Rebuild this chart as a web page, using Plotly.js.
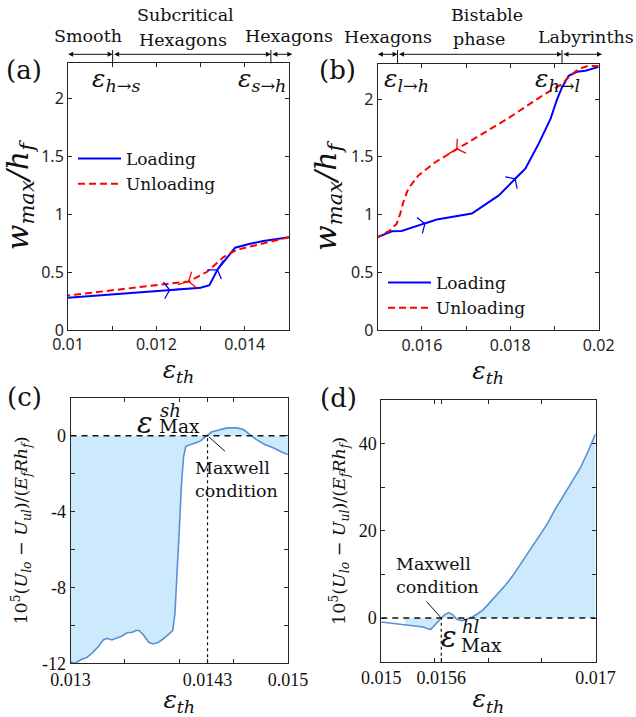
<!DOCTYPE html>
<html><head><meta charset="utf-8">
<script src="https://cdn.plot.ly/plotly-3.0.1.min.js"></script>
<style>html,body{margin:0;padding:0;background:#fff}</style>
</head><body><div id="chart" style="width:636px;height:717px"></div>
<script>
// ---------- data ----------
// (a) subcritical hexagons
const aLoadX   = [0.0100, 0.0123, 0.0130, 0.0132, 0.01338, 0.01378, 0.01412, 0.01442, 0.0150];
const aLoadY   = [0.278, 0.345, 0.364, 0.387, 0.520, 0.710, 0.744, 0.767, 0.800];
const aUnloadX = [0.0150, 0.01435, 0.01382, 0.01352, 0.01314, 0.01273, 0.0100];
const aUnloadY = [0.800, 0.744, 0.692, 0.629, 0.500, 0.419, 0.298];
const aLoadArrowIdx = [1, 4];
const aUnloadArrowIdx = [5];
const aTransitions = [0.01101, 0.01459];

// (b) bistable phase
const bLoadX   = [0.0150, 0.01532, 0.01554, 0.01607, 0.01634, 0.01713, 0.01774, 0.01811, 0.01834, 0.01864, 0.01891, 0.01906, 0.01917, 0.01932, 0.01951, 0.0197, 0.0200];
const bLoadY   = [0.805, 0.856, 0.859, 0.922, 0.959, 1.009, 1.166, 1.310, 1.397, 1.612, 1.828, 2.000, 2.100, 2.200, 2.235, 2.244, 2.278];
const bUnloadX = [0.0200, 0.01975, 0.01955, 0.01935, 0.01917, 0.01872, 0.01796, 0.01736, 0.01679, 0.0163, 0.01592, 0.01569, 0.01558, 0.01551, 0.01543, 0.01528, 0.0150];
const bUnloadY = [2.285, 2.285, 2.260, 2.200, 2.130, 2.028, 1.835, 1.698, 1.569, 1.453, 1.339, 1.224, 1.109, 1.009, 0.922, 0.865, 0.805];
const bLoadArrowIdx = [3, 7];
const bUnloadArrowIdx = [8];
const bTransitions = [0.01545, 0.01917];

// (c) energy difference, smooth <-> hexagons
const cX = [0.0130, 0.01304, 0.0131, 0.01315, 0.0132, 0.01326, 0.0133, 0.01334, 0.01338, 0.01343, 0.01347, 0.01352, 0.01357, 0.0136, 0.01363, 0.01367, 0.01372, 0.01376, 0.01381, 0.01386, 0.01391, 0.01394, 0.01396, 0.01398, 0.0140, 0.01402, 0.01404, 0.01406, 0.01413, 0.01419, 0.01425, 0.0143, 0.01434, 0.01444, 0.01453, 0.01459, 0.01465, 0.01471, 0.01479, 0.01487, 0.01494, 0.0150];
const cY = [-11.92, -12.0, -11.8, -11.7, -11.45, -11.1, -10.77, -10.68, -10.77, -10.68, -10.57, -10.39, -10.36, -10.27, -10.27, -10.5, -10.89, -10.98, -10.89, -10.68, -10.45, -10.27, -9.4, -7.4, -5.0, -2.6, -1.1, -0.56, -0.44, -0.3, -0.03, 0.2, 0.26, 0.41, 0.41, 0.32, 0.05, -0.21, -0.48, -0.65, -0.86, -1.0];
const cMaxwell = 0.01426;

// (d) energy difference, hexagons <-> labyrinths
const dX = [0.0150, 0.01507, 0.01514, 0.01522, 0.0153, 0.01539, 0.01546, 0.0155, 0.01555, 0.01559, 0.01563, 0.01567, 0.0157, 0.01575, 0.0158, 0.01585, 0.0159, 0.01595, 0.0160, 0.01608, 0.01616, 0.01623, 0.01631, 0.01639, 0.01647, 0.01655, 0.01662, 0.0167, 0.01678, 0.01686, 0.01693, 0.0170];
const dY = [-0.9, -1.1, -1.3, -1.5, -1.7, -2.05, -2.65, -1.55, -0.25, 0.75, 1.25, 0.75, -0.2, -0.6, -0.25, 0.25, 1.0, 1.9, 3.2, 5.4, 7.6, 9.8, 12.7, 15.6, 18.6, 21.6, 24.8, 28.1, 31.3, 34.5, 38.2, 42.2];
const dMaxwell = 0.01556;
const dFillStart = 0.0152;

// ---------- layout helpers ----------
const W = 636, H = 717;
const px = v => v / W, py = v => 1 - v / H;
const SERIF = 'DejaVu Serif', SANS = 'Noto Sans', TSERIF = 'Liberation Serif';
const INK = '#262626';
const BLUE = '#0000ff', RED = '#ff0000', CLINE = '#5a8fd5', CFILL = '#cceafc';

const dom = {
  a: {x: [px(68), px(289)], y: [py(330), py(63.3)], xr: [0.01, 0.015], yr: [0, 2.3]},
  b: {x: [px(377.7), px(598.7)], y: [py(330.3), py(64.3)], xr: [0.015, 0.02], yr: [0, 2.3]},
  c: {x: [px(70.5), px(288)], y: [py(663.3), py(397.7)], xr: [0.013, 0.015], yr: [-12, 2]},
  d: {x: [px(381.3), px(595.5)], y: [py(661.7), py(400)], xr: [0.015, 0.017], yr: [-10, 50]}
};

function arrowAngles(xs, ys, idx, d) {
  const sx = W * (d.x[1] - d.x[0]) / (d.xr[1] - d.xr[0]);
  const sy = H * (d.y[1] - d.y[0]) / (d.yr[1] - d.yr[0]);
  return idx.map(i => {
    const v = [];
    for (const [p, q] of [[i - 1, i], [i, i + 1]]) {
      if (p < 0 || q >= xs.length) continue;
      const dx = (xs[q] - xs[p]) * sx, dy = -(ys[q] - ys[p]) * sy;
      const n = Math.hypot(dx, dy); v.push([dx / n, dy / n]);
    }
    const mx = v.reduce((s, e) => s + e[0], 0), my = v.reduce((s, e) => s + e[1], 0);
    return Math.atan2(my, mx) * 180 / Math.PI;
  });
}
function arrowTrace(xs, ys, idx, d, color, xa, ya) {
  return {x: idx.map(i => xs[i]), y: idx.map(i => ys[i]), xaxis: xa, yaxis: ya, type: 'scatter', mode: 'markers',
    showlegend: false, hoverinfo: 'skip',
    marker: {symbol: 'y-right', size: 14, angle: arrowAngles(xs, ys, idx, d), color: color, line: {color: color, width: 1.3}}};
}

const traces = [
  {x: aLoadX, y: aLoadY, xaxis: 'x', yaxis: 'y', type: 'scatter', mode: 'lines', name: 'Loading', legend: 'legend',
   line: {color: BLUE, width: 2}},
  {x: aUnloadX, y: aUnloadY, xaxis: 'x', yaxis: 'y', type: 'scatter', mode: 'lines', name: 'Unloading', legend: 'legend',
   line: {color: RED, width: 2, dash: '7px,4px'}},
  arrowTrace(aLoadX, aLoadY, aLoadArrowIdx, dom.a, BLUE, 'x', 'y'),
  arrowTrace(aUnloadX, aUnloadY, aUnloadArrowIdx, dom.a, RED, 'x', 'y'),
  {x: bLoadX, y: bLoadY, xaxis: 'x2', yaxis: 'y2', type: 'scatter', mode: 'lines', name: 'Loading', legend: 'legend2',
   line: {color: BLUE, width: 2}},
  {x: bUnloadX, y: bUnloadY, xaxis: 'x2', yaxis: 'y2', type: 'scatter', mode: 'lines', name: 'Unloading', legend: 'legend2',
   line: {color: RED, width: 2, dash: '7px,4px'}},
  arrowTrace(bLoadX, bLoadY, bLoadArrowIdx, dom.b, BLUE, 'x2', 'y2'),
  arrowTrace(bUnloadX, bUnloadY, bUnloadArrowIdx, dom.b, RED, 'x2', 'y2'),
  {x: cX, y: cY, xaxis: 'x3', yaxis: 'y3', type: 'scatter', mode: 'lines', fill: 'tozeroy', fillcolor: CFILL,
   showlegend: false, line: {color: CLINE, width: 1.6}},
  (() => {
    const xs = [], ys = [];
    dX.forEach((x, i) => { if (x >= dFillStart) { xs.push(x); ys.push(dY[i]); } });
    return {x: xs, y: ys, xaxis: 'x4', yaxis: 'y4', type: 'scatter', mode: 'none', fill: 'tozeroy', fillcolor: CFILL, showlegend: false};
  })(),
  {x: dX, y: dY, xaxis: 'x4', yaxis: 'y4', type: 'scatter', mode: 'lines', showlegend: false, line: {color: CLINE, width: 1.6}}
];

function box(extra) {
  return Object.assign({showline: true, mirror: 'allticks', ticks: 'inside', ticklen: 4, tickwidth: 1, linewidth: 1,
    linecolor: INK, tickcolor: INK, showgrid: false, zeroline: false, fixedrange: true}, extra);
}
const epsTh = '<i>ε</i><sub><i>th</i></sub>';
const wTitle = '<i>w</i><sub><i>max</i></sub><i>/h</i><sub><i>f</i></sub>';
const uTitle = '10<sup>5</sup>(<i>U</i><sub><i>lo</i></sub> − <i>U</i><sub><i>ul</i></sub>)/(<i>E</i><sub><i>f</i></sub><i>Rh</i><sub><i>f</i></sub>)';
const sansTick = {family: SANS, size: 16, color: INK};
const serifTick = {family: TSERIF, size: 18, color: '#111'};
const xTitleFont = {family: SERIF, size: 25, color: '#111'};

const layout = {
  width: W, height: H, margin: {l: 0, r: 0, t: 0, b: 0, pad: 0},
  paper_bgcolor: '#fff', plot_bgcolor: '#fff', showlegend: true,
  xaxis: box({domain: dom.a.x, range: dom.a.xr, anchor: 'y',
    tickvals: [0.010, 0.011, 0.012, 0.013, 0.014, 0.015], ticktext: ['0.01', '', '0.012', '', '0.014', ''],
    tickfont: sansTick, title: {text: epsTh, font: xTitleFont, standoff: 2}}),
  yaxis: box({domain: dom.a.y, range: dom.a.yr, anchor: 'x',
    tickvals: [0, 0.5, 1, 1.5, 2], ticktext: ['0', '0.5', '1', '1.5', '2'],
    tickfont: sansTick, title: {text: wTitle, font: {family: SERIF, size: 30, color: '#111'}, standoff: 5}}),
  xaxis2: box({domain: dom.b.x, range: dom.b.xr, anchor: 'y2',
    tickvals: [0.015, 0.016, 0.017, 0.018, 0.019, 0.020], ticktext: ['', '0.016', '', '0.018', '', '0.02'],
    tickfont: sansTick, title: {text: epsTh, font: xTitleFont, standoff: 2}}),
  yaxis2: box({domain: dom.b.y, range: dom.b.yr, anchor: 'x2',
    tickvals: [0, 0.5, 1, 1.5, 2], ticktext: ['0', '0.5', '1', '1.5', '2'],
    tickfont: sansTick, title: {text: wTitle, font: {family: SERIF, size: 30, color: '#111'}, standoff: 5}}),
  xaxis3: box({domain: dom.c.x, range: dom.c.xr, anchor: 'y3',
    tickvals: [0.013, 0.0135, 0.014, cMaxwell, 0.0145, 0.015], ticktext: ['0.013', '', '', '0.0143', '', '0.015'],
    tickfont: serifTick, title: {text: epsTh, font: xTitleFont, standoff: 2}}),
  yaxis3: box({domain: dom.c.y, range: dom.c.yr, anchor: 'x3',
    tickvals: [-12, -10, -8, -6, -4, -2, 0, 2], ticktext: ['-12', '', '-8', '', '-4', '', '0', ''],
    tickfont: serifTick, title: {text: uTitle, font: {family: SERIF, size: 17.5, color: '#111'}, standoff: 9}}),
  xaxis4: box({domain: dom.d.x, range: dom.d.xr, anchor: 'y4',
    tickvals: [0.015, 0.0155, dMaxwell, 0.016, 0.0165, 0.017], ticktext: ['0.015', '', '0.0156', '', '', '0.017'],
    tickfont: serifTick, title: {text: epsTh, font: xTitleFont, standoff: 2}}),
  yaxis4: box({domain: dom.d.y, range: dom.d.yr, anchor: 'x4',
    tickvals: [-10, 0, 10, 20, 30, 40, 50], ticktext: ['', '0', '', '20', '', '40', ''],
    tickfont: serifTick, title: {text: uTitle, font: {family: SERIF, size: 17.5, color: '#111'}, standoff: 8}}),
  legend: {x: px(73), y: py(141), xanchor: 'left', yanchor: 'top', bgcolor: 'rgba(0,0,0,0)', borderwidth: 0,
    font: {family: SERIF, size: 17, color: '#111'}, itemwidth: 43, tracegroupgap: 0},
  legend2: {x: px(383), y: py(265), xanchor: 'left', yanchor: 'top', bgcolor: 'rgba(0,0,0,0)', borderwidth: 0,
    font: {family: SERIF, size: 17, color: '#111'}, itemwidth: 43, tracegroupgap: 0},
  shapes: [],
  annotations: []
};

const S = layout.shapes, A = layout.annotations;
const txt = (x, y, text, size, opts) => A.push(Object.assign({xref: 'paper', yref: 'paper', x: px(x), y: py(y), text: text,
  showarrow: false, font: {family: SERIF, size: size, color: '#111'}, xanchor: 'center', yanchor: 'middle'}, opts || {}));

// panel letters
txt(24, 70, '(a)', 26); txt(337, 70, '(b)', 26); txt(24, 397, '(c)', 26); txt(338, 398, '(d)', 26);

// regime labels
txt(88, 36, 'Smooth', 17.5); txt(185, 15, 'Subcritical', 17.5); txt(183, 40, 'Hexagons', 17.5); txt(289, 36, 'Hexagons', 17.5);
txt(388, 37, 'Hexagons', 17.5); txt(487, 15, 'Bistable', 17.5); txt(479, 39, 'phase', 17.5); txt(586, 37, 'Labyrinths', 17.5);

// transition labels
txt(116, 80, '<i>ε</i><sub><i>h</i>→<i>s</i></sub>', 25);
txt(262, 80, '<i>ε</i><sub><i>s</i>→<i>h</i></sub>', 25);
txt(406, 80, '<i>ε</i><sub><i>l</i>→<i>h</i></sub>', 25);
txt(557, 80, '<i>ε</i><sub><i>h</i>→<i>l</i></sub>', 25);

// regime arrows above (a) and (b)
function regimeArrows(xa, trans, r) {
  const span = r[1] - r[0];
  const pts = [r[0] - span * 0.006, ...trans, r[1] + span * 0.015];
  for (let i = 0; i < pts.length - 1; i++) {
    A.push({xref: xa, yref: 'paper', axref: xa, ayref: 'pixel', x: pts[i + 1], y: py(54.3), ax: pts[i], ay: 0,
      text: '', showarrow: true, arrowside: 'end+start', arrowhead: 2, arrowsize: 1, arrowwidth: 1, arrowcolor: '#111',
      standoff: 0, startstandoff: 0});
  }
  trans.forEach(t => S.push({type: 'line', xref: xa, yref: 'paper', x0: t, x1: t, y0: py(63.3), y1: py(50),
    line: {color: '#111', width: 1}}));
}
regimeArrows('x', aTransitions, dom.a.xr);
regimeArrows('x2', bTransitions, dom.b.xr);

// Maxwell construction lines in (c) and (d)
S.push({type: 'line', xref: 'x3', yref: 'y3', x0: dom.c.xr[0], x1: dom.c.xr[1], y0: 0, y1: 0, line: {color: '#111', width: 1.5, dash: '6px,5px'}});
S.push({type: 'line', xref: 'x3', yref: 'y3', x0: cMaxwell, x1: cMaxwell, y0: dom.c.yr[0], y1: 0, line: {color: '#111', width: 1.2, dash: '3px,3px'}});
S.push({type: 'line', xref: 'x4', yref: 'y4', x0: dom.d.xr[0], x1: dom.d.xr[1], y0: 0, y1: 0, line: {color: '#111', width: 1.5, dash: '6px,5px'}});
S.push({type: 'line', xref: 'x4', yref: 'y4', x0: dMaxwell, x1: dMaxwell, y0: dom.d.yr[0], y1: 0, line: {color: '#111', width: 1.2, dash: '3px,3px'}});

// Maxwell pointers
A.push({xref: 'x3', yref: 'y3', x: cMaxwell, y: 0, ax: 19, ay: 17, text: '', showarrow: true, arrowhead: 0, arrowwidth: 1, arrowcolor: '#111', standoff: 2});
A.push({xref: 'x4', yref: 'y4', x: dMaxwell, y: 0, ax: -16, ay: -18, text: '', showarrow: true, arrowhead: 0, arrowwidth: 1, arrowcolor: '#111', standoff: 1});
txt(193, 479, 'Maxwell<br>condition', 17.5, {xanchor: 'left', align: 'left'});
txt(394, 575, 'Maxwell<br>condition', 17.5, {xanchor: 'left', align: 'left'});

// epsilon Max labels
txt(145, 423, '<i>ε</i>', 29);
txt(158, 410, '<i>sh</i>', 18, {xanchor: 'left'});
txt(157, 426, 'Max', 18.5, {xanchor: 'left'});
txt(449, 637, '<i>ε</i>', 29);
txt(460, 626, '<i>hl</i>', 18, {xanchor: 'left'});
txt(459, 645, 'Max', 18.5, {xanchor: 'left'});

Plotly.newPlot('chart', traces, layout, {staticPlot: true, displayModeBar: false});
</script>
</body></html>
